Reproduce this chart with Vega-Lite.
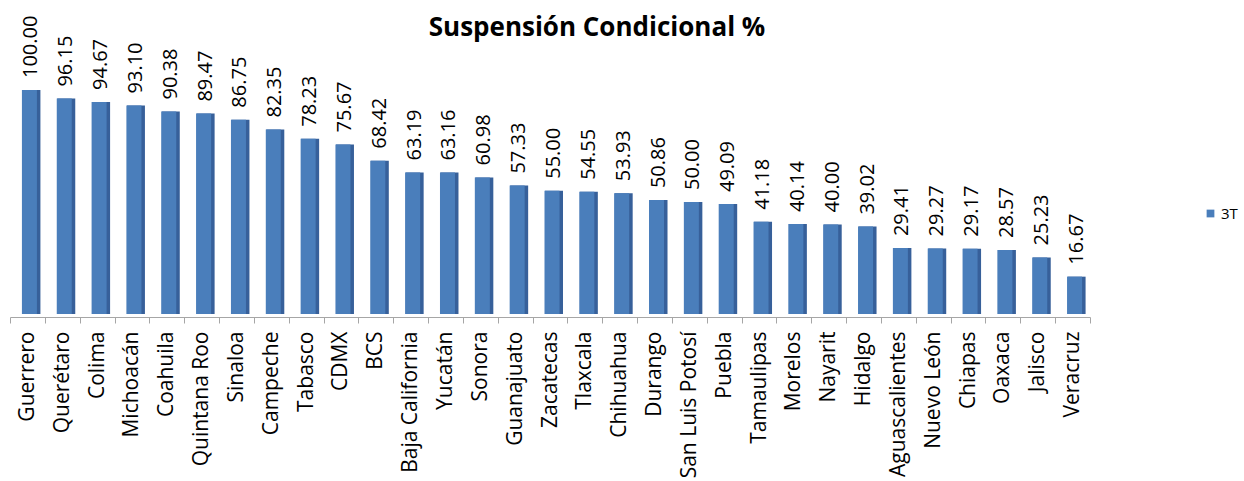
{
  "$schema": "https://vega.github.io/schema/vega-lite/v6.json",
  "autosize": "none",
  "width": 1080,
  "height": 224,
  "padding": {"left": 10, "top": 90, "right": 154, "bottom": 167},
  "background": "white",
  "view": {"stroke": null},
  "title": {"text": "Suspensión Condicional %", "font": "Open Sans", "fontSize": 26, "fontWeight": "bold", "color": "#000000", "dx": 47, "offset": -25},
  "data": {"values": [
    {"estado": "Guerrero", "valor": 100.00, "serie": "3T"},
    {"estado": "Querétaro", "valor": 96.15, "serie": "3T"},
    {"estado": "Colima", "valor": 94.67, "serie": "3T"},
    {"estado": "Michoacán", "valor": 93.10, "serie": "3T"},
    {"estado": "Coahuila", "valor": 90.38, "serie": "3T"},
    {"estado": "Quintana Roo", "valor": 89.47, "serie": "3T"},
    {"estado": "Sinaloa", "valor": 86.75, "serie": "3T"},
    {"estado": "Campeche", "valor": 82.35, "serie": "3T"},
    {"estado": "Tabasco", "valor": 78.23, "serie": "3T"},
    {"estado": "CDMX", "valor": 75.67, "serie": "3T"},
    {"estado": "BCS", "valor": 68.42, "serie": "3T"},
    {"estado": "Baja California", "valor": 63.19, "serie": "3T"},
    {"estado": "Yucatán", "valor": 63.16, "serie": "3T"},
    {"estado": "Sonora", "valor": 60.98, "serie": "3T"},
    {"estado": "Guanajuato", "valor": 57.33, "serie": "3T"},
    {"estado": "Zacatecas", "valor": 55.00, "serie": "3T"},
    {"estado": "Tlaxcala", "valor": 54.55, "serie": "3T"},
    {"estado": "Chihuahua", "valor": 53.93, "serie": "3T"},
    {"estado": "Durango", "valor": 50.86, "serie": "3T"},
    {"estado": "San Luis Potosí", "valor": 50.00, "serie": "3T"},
    {"estado": "Puebla", "valor": 49.09, "serie": "3T"},
    {"estado": "Tamaulipas", "valor": 41.18, "serie": "3T"},
    {"estado": "Morelos", "valor": 40.14, "serie": "3T"},
    {"estado": "Nayarit", "valor": 40.00, "serie": "3T"},
    {"estado": "Hidalgo", "valor": 39.02, "serie": "3T"},
    {"estado": "Aguascalientes", "valor": 29.41, "serie": "3T"},
    {"estado": "Nuevo León", "valor": 29.27, "serie": "3T"},
    {"estado": "Chiapas", "valor": 29.17, "serie": "3T"},
    {"estado": "Oaxaca", "valor": 28.57, "serie": "3T"},
    {"estado": "Jalisco", "valor": 25.23, "serie": "3T"},
    {"estado": "Veracruz", "valor": 16.67, "serie": "3T"}
  ]},
  "encoding": {
    "x": {"field": "estado", "type": "nominal", "sort": null,
      "scale": {"paddingInner": 0, "paddingOuter": 0},
      "axis": {"title": null, "labelAngle": -90, "labelAlign": "right", "labelBaseline": "middle", "labelFont": "Open Sans", "labelFontSize": 21, "labelColor": "#000000", "labelPadding": 8, "labelLimit": 200, "domainColor": "#a6a6a6", "tickColor": "#a6a6a6", "tickSize": 6, "tickBand": "extent", "offset": 3}},
    "y": {"field": "valor", "type": "quantitative", "scale": {"domain": [0, 100], "nice": false}, "axis": null}
  },
  "layer": [
    {"mark": {"type": "bar", "width": 18, "xOffset": 4, "color": "#37609a"}},
    {"mark": {"type": "bar", "width": 15, "xOffset": 2},
      "encoding": {"color": {"field": "serie", "type": "nominal", "scale": {"range": ["#4a7ebb"]},
        "legend": {"title": null, "orient": "none", "legendX": 1193, "legendY": 116, "symbolType": "square", "symbolSize": 60, "labelFont": "Open Sans", "labelFontSize": 15, "labelOffset": 3, "labelColor": "#000000"}}}},
    {"mark": {"type": "text", "angle": -90, "align": "left", "baseline": "middle", "dx": 12, "xOffset": 4, "font": "Open Sans", "fontSize": 20, "color": "#000000"},
      "encoding": {"text": {"field": "valor", "type": "quantitative", "format": ".2f"}}}
  ]
}
